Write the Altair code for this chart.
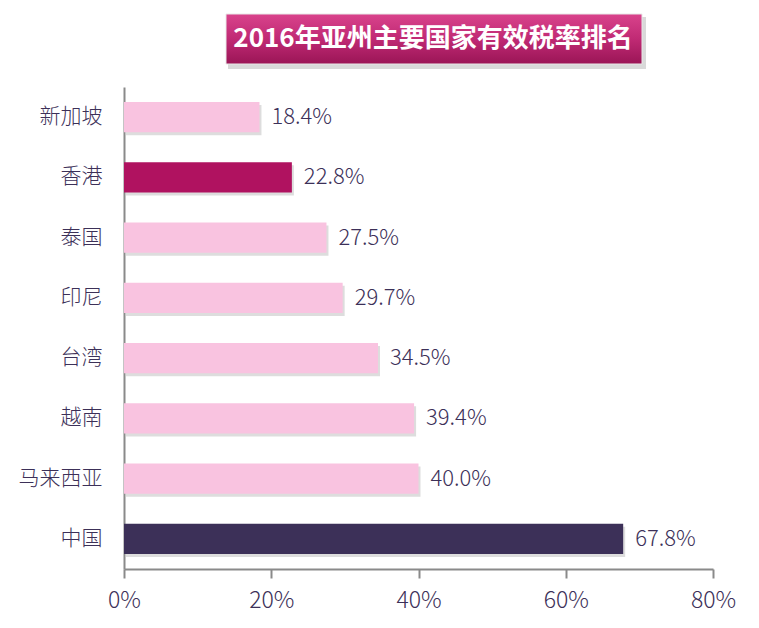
import altair as alt
import pandas as pd

title_text = "2016年亚州主要国家有效税率排名"
countries = ["新加坡", "香港", "泰国", "印尼", "台湾", "越南", "马来西亚", "中国"]
rates = [0.184, 0.228, 0.275, 0.297, 0.345, 0.394, 0.400, 0.678]
labels = ["18.4%", "22.8%", "27.5%", "29.7%", "34.5%", "39.4%", "40.0%", "67.8%"]
bar_colors = ["#f9c3e0", "#b01260", "#f9c3e0", "#f9c3e0", "#f9c3e0", "#f9c3e0", "#f9c3e0", "#3c3058"]
x_ticks = [0, 0.2, 0.4, 0.6, 0.8]

df = pd.DataFrame({"country": countries, "rate": rates, "label": labels, "color": bar_colors})

FONT = "Noto Sans CJK SC"
TXT = "#3c3058"

y_enc = alt.Y("country:N", sort=countries,
              scale=alt.Scale(paddingInner=0.5, paddingOuter=0.25),
              axis=alt.Axis(title=None, ticks=False, labelFontSize=21, labelFont=FONT,
                            labelFontWeight=300,
                            labelColor=TXT, labelPadding=22, domainColor="#8a8a8a",
                            domainWidth=2, grid=False))
x_enc = alt.X("rate:Q", scale=alt.Scale(domain=[0, 0.8], nice=False),
              axis=alt.Axis(title=None, values=x_ticks, format=".0%", labelFontSize=23,
                            labelFont=FONT, labelFontWeight=300, labelFlush=False,
                            labelColor=TXT, labelPadding=11, tickSize=9,
                            tickColor="#8a8a8a", tickWidth=2, domainColor="#8a8a8a",
                            domainWidth=2, grid=False))

base = alt.Chart(df)

shadow = base.mark_bar(color="#555555", opacity=0.2, xOffset=2, yOffset=3).encode(
    y=y_enc, x=x_enc)
bars = base.mark_bar().encode(y=y_enc, x=x_enc, color=alt.Color("color:N", scale=None))
text = base.mark_text(align="left", baseline="middle", dx=12, fontSize=22, font=FONT,
                      fontWeight=300, color=TXT).encode(y=y_enc, x=x_enc, text="label:N")

tdf = pd.DataFrame({"t": [title_text]})
tshadow = alt.Chart(tdf).mark_rect(color="#000000", opacity=0.15).encode(
    x=alt.value(104), x2=alt.value(522), y=alt.value(-70), y2=alt.value(-18))
tbox = alt.Chart(tdf).mark_rect(
    color=alt.Gradient(gradient="linear", x1=0, x2=0, y1=0, y2=1,
                       stops=[alt.GradientStop(color="#d9438c", offset=0),
                              alt.GradientStop(color="#c02a74", offset=0.5),
                              alt.GradientStop(color="#9a1556", offset=1)]),
    stroke="#e8e8e8", strokeWidth=1).encode(
    x=alt.value(102), x2=alt.value(518), y=alt.value(-73), y2=alt.value(-23))
ttext = alt.Chart(tdf).mark_text(fontSize=26, fontWeight="bold", font=FONT, color="white",
                                 align="center", baseline="middle").encode(
    x=alt.value(309), y=alt.value(-48), text="t:N")

chart = alt.layer(shadow, bars, text, tshadow, tbox, ttext).properties(
    width=589, height=482,
    autosize=alt.AutoSizeParams(type="none"),
    padding={"left": 116, "top": 79, "right": 38, "bottom": 50},
).configure_view(stroke=None)

chart.save("out.html", embed_options={"renderer": "svg", "actions": False})
